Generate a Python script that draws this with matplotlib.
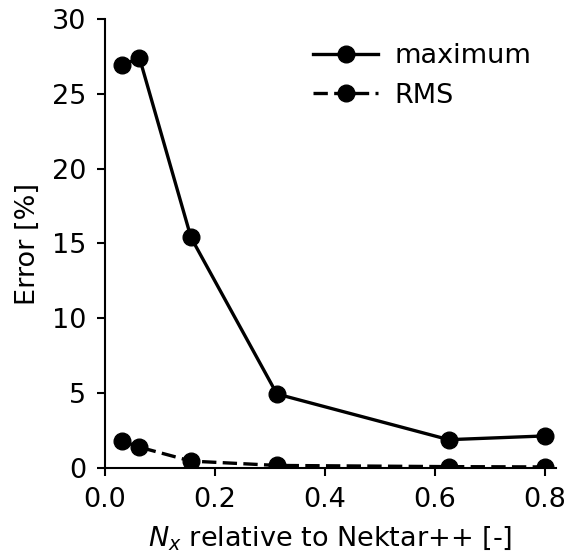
import matplotlib
matplotlib.use("Agg")
import matplotlib.pyplot as plt

# Nx relative to Nektar++
nx_rel = [1/32, 2/32, 5/32, 10/32, 20/32, 0.8]
err_max = [26.9, 27.4, 15.4, 4.95, 1.9, 2.15]
err_rms = [1.8, 1.4, 0.47, 0.18, 0.1, 0.08]

plt.rcParams['font.size'] = 19.5

fig = plt.figure(figsize=(5.65, 5.54), dpi=100)
ax = fig.add_axes([0.186, 0.155, 0.798, 0.811])

ax.plot(nx_rel, err_max, '-o', color='black', lw=2.4, ms=12, label='maximum')
ax.plot(nx_rel, err_rms, '--o', color='black', lw=2.4, ms=12, dashes=(4.3, 1.9),
        label='RMS')

ax.set_xlim(0, 0.82)
ax.set_ylim(0, 30)
ax.set_xticks([0.0, 0.2, 0.4, 0.6, 0.8])
ax.set_yticks([0, 5, 10, 15, 20, 25, 30])
ax.spines['top'].set_visible(False)
ax.spines['right'].set_visible(False)
for s in ax.spines.values():
    s.set_linewidth(1.5)
ax.tick_params(width=1.5, length=6, pad=7.5)

ax.set_xlabel(r'$N_x$ relative to Nektar++ [-]', labelpad=8)
ax.set_ylabel('Error [%]', labelpad=8)
ax.legend(frameon=False, loc='upper right', handlelength=2.4, handletextpad=0.6)

fig.savefig('out.png', dpi=100)
